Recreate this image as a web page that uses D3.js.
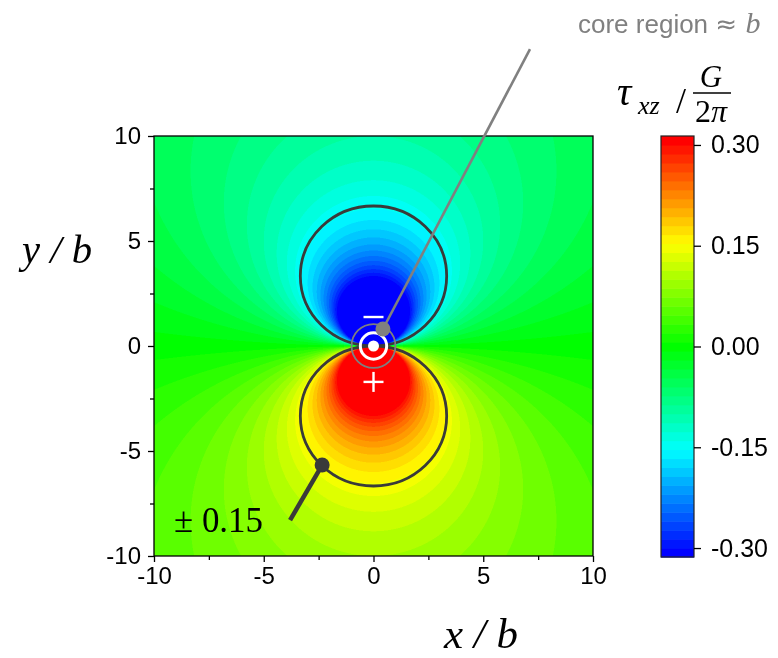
<!DOCTYPE html>
<html><head><meta charset="utf-8">
<script src="https://cdn.jsdelivr.net/npm/d3@7/dist/d3.min.js"></script>
<style>
body{margin:0;background:#fff;}
#wrap{position:relative;width:778px;height:658px;overflow:hidden;}
#wrap canvas,#wrap svg{position:absolute;left:0;top:0;}
</style></head>
<body><div id="wrap"></div>
<script>
// ---------------- data ----------------
const xDomain = [-10, 10];
const yDomain = [-10, 10];
const xTicks = [-10, -5, 0, 5, 10];
const yTicks = [-10, -5, 0, 5, 10];
const minorTicks = [-7.5, -2.5, 2.5, 7.5];
const colorTicks = [-0.30, -0.15, 0.00, 0.15, 0.30];
const colorTickLabels = ["-0.30", "-0.15", "0.00", "0.15", "0.30"];
const contourLevels = [-0.15, 0.15];           // drawn iso-lines of tau_xz
const bandStep = 1 / 75;                        // width of one colour band
const bandCount = 47;                           // bands -23 .. 23
const paletteColors = ["#0000ff", "#00ffff", "#00ff00", "#ffff00", "#ff0000"];
const coreRadii = { ring: 1.0, whiteRing: 0.6, dot: 0.25 };   // in b
// screw-dislocation shear stress field, tau_xz in units of G/(2pi), lengths in b
const burgers = 1;
function tauXZ(x, y) { const r2 = x * x + y * y; return r2 === 0 ? 0 : -burgers * y / r2; }
// annotation anchors in data units
const corePointer = { dot: [0.43, 0.81], end: [7.13, 14.14] };
const levelPointer = { dot: [-2.34, -5.67], end: [-3.80, -8.29] };
const signPos = { minus: [0, 1.38], plus: [0, -1.71] };

// ---------------- layout ----------------
const W = 778, H = 658;
const plot = { left: 154, right: 593, top: 136, bottom: 556 };
const cbar = { left: 661, right: 694, top: 136, bottom: 557 };

const xScale = d3.scaleLinear().domain(xDomain).range([plot.left, plot.right]);
const yScale = d3.scaleLinear().domain(yDomain).range([plot.bottom, plot.top]);
const half = (bandCount - 1) / 2;
const palette = d3.scaleLinear()
  .domain([-half * bandStep, -half / 2 * bandStep, 0, half / 2 * bandStep, half * bandStep])
  .range(paletteColors).interpolate(d3.interpolateRgb).clamp(true);
const bandIndex = v => Math.max(-half, Math.min(half, Math.round(v / bandStep)));
const cScale = d3.scaleLinear()
  .domain([-(half + 0.5) * bandStep, (half + 0.5) * bandStep])
  .range([cbar.bottom, cbar.top]);

const wrap = d3.select("#wrap");

// ---------------- field (canvas, 2x supersampled) ----------------
const ss = 2;
const pw = plot.right - plot.left, ph = plot.bottom - plot.top;
const canvas = wrap.append("canvas")
  .attr("width", pw * ss).attr("height", ph * ss)
  .style("left", plot.left + "px").style("top", plot.top + "px")
  .style("width", pw + "px").style("height", ph + "px");
const ctx = canvas.node().getContext("2d");
const img = ctx.createImageData(pw * ss, ph * ss);
const bandRGB = {};
d3.range(-half, half + 1).forEach(k => { const c = d3.rgb(palette(k * bandStep)); bandRGB[k] = [c.r, c.g, c.b]; });
for (let j = 0; j < ph * ss; j++) {
  const y = yScale.invert(plot.top + (j + 0.5) / ss);
  for (let i = 0; i < pw * ss; i++) {
    const x = xScale.invert(plot.left + (i + 0.5) / ss);
    const c = bandRGB[bandIndex(tauXZ(x, y))];
    const o = (j * pw * ss + i) * 4;
    img.data[o] = c[0]; img.data[o + 1] = c[1]; img.data[o + 2] = c[2]; img.data[o + 3] = 255;
  }
}
ctx.putImageData(img, 0, 0);

// ---------------- svg overlay ----------------
const svg = wrap.append("svg").attr("width", W).attr("height", H);
const sansFont = "Liberation Sans, Arial, sans-serif";
const serifFont = "Liberation Serif, 'Times New Roman', serif";

// contour lines (circles through origin)
svg.append("g").selectAll("ellipse").data(contourLevels).join("ellipse")
  .attr("cx", xScale(0))
  .attr("cy", L => yScale(-1 / (2 * L)))
  .attr("rx", L => xScale(1 / (2 * Math.abs(L))) - xScale(0))
  .attr("ry", L => yScale(0) - yScale(1 / (2 * Math.abs(L))))
  .attr("fill", "none").attr("stroke", "#3a3a3a").attr("stroke-width", 2.8);

// core markers
const cx0 = xScale(0), cy0 = yScale(0), kx = xScale(1) - xScale(0);
svg.append("circle").attr("cx", cx0).attr("cy", cy0).attr("r", coreRadii.ring * kx)
  .attr("fill", "none").attr("stroke", "#7f7f7f").attr("stroke-width", 1.8);
svg.append("circle").attr("cx", cx0).attr("cy", cy0).attr("r", coreRadii.whiteRing * kx)
  .attr("fill", "none").attr("stroke", "#fff").attr("stroke-width", 3);
svg.append("circle").attr("cx", cx0).attr("cy", cy0).attr("r", coreRadii.dot * kx).attr("fill", "#fff");

// signs
const sgn = svg.append("g").attr("stroke", "#fff").attr("stroke-width", 2.4);
sgn.append("line").attr("x1", xScale(signPos.minus[0]) - 10).attr("x2", xScale(signPos.minus[0]) + 10)
  .attr("y1", yScale(signPos.minus[1])).attr("y2", yScale(signPos.minus[1]));
sgn.append("line").attr("x1", xScale(signPos.plus[0]) - 10).attr("x2", xScale(signPos.plus[0]) + 10)
  .attr("y1", yScale(signPos.plus[1])).attr("y2", yScale(signPos.plus[1]));
sgn.append("line").attr("x1", xScale(signPos.plus[0])).attr("x2", xScale(signPos.plus[0]))
  .attr("y1", yScale(signPos.plus[1]) - 10).attr("y2", yScale(signPos.plus[1]) + 10);

// frame + axes
svg.append("rect").attr("x", plot.left).attr("y", plot.top).attr("width", pw).attr("height", ph)
  .attr("fill", "none").attr("stroke", "#000").attr("stroke-width", 1.3);
const fmt = d => String(d);
svg.append("g").attr("transform", `translate(0,${plot.bottom})`)
  .call(d3.axisBottom(xScale).tickValues(xTicks).tickSize(6).tickPadding(5).tickFormat(fmt));
svg.append("g").attr("transform", `translate(0,${plot.bottom})`)
  .call(d3.axisBottom(xScale).tickValues(minorTicks).tickSize(4).tickFormat(""));
svg.append("g").attr("transform", `translate(${plot.left},0)`)
  .call(d3.axisLeft(yScale).tickValues(yTicks).tickSize(6).tickPadding(7).tickFormat(fmt));
svg.append("g").attr("transform", `translate(${plot.left},0)`)
  .call(d3.axisLeft(yScale).tickValues(minorTicks).tickSize(4).tickFormat(""));
svg.selectAll(".domain").remove();
svg.selectAll(".tick line").attr("stroke", "#000").attr("stroke-width", 1.3);
svg.selectAll(".tick text").attr("font-family", sansFont).attr("font-size", 24).attr("fill", "#000");

// colorbar
const cb = svg.append("g");
cb.selectAll("rect.band").data(d3.range(-half, half + 1)).join("rect").attr("class", "band")
  .attr("x", cbar.left).attr("width", cbar.right - cbar.left)
  .attr("y", k => cScale((k + 0.5) * bandStep))
  .attr("height", k => cScale((k - 0.5) * bandStep) - cScale((k + 0.5) * bandStep) + 0.6)
  .attr("fill", k => palette(k * bandStep));
cb.append("rect").attr("x", cbar.left).attr("y", cbar.top).attr("width", cbar.right - cbar.left)
  .attr("height", cbar.bottom - cbar.top).attr("fill", "none").attr("stroke", "#222").attr("stroke-width", 1.2);
cb.append("g").attr("transform", `translate(${cbar.right},0)`)
  .call(d3.axisRight(cScale).tickValues(colorTicks).tickSize(7).tickPadding(10)
    .tickFormat((d, i) => colorTickLabels[i]))
  .call(g => g.select(".domain").remove())
  .call(g => g.selectAll("line").attr("stroke", "#000").attr("stroke-width", 1.3))
  .call(g => g.selectAll("text").attr("font-family", sansFont).attr("font-size", 25).attr("fill", "#000"));

// colorbar title tau_xz / (G / 2pi)
const tt = svg.append("g").attr("font-family", serifFont).attr("font-style", "italic").attr("fill", "#000");
tt.append("text").attr("x", 617).attr("y", 105).attr("font-size", 40).text("τ");
tt.append("text").attr("x", 638).attr("y", 114).attr("font-size", 26).text("xz");
tt.append("text").attr("x", 676).attr("y", 113).attr("font-size", 36).attr("font-style", "normal").text("/");
tt.append("text").attr("x", 711).attr("y", 87).attr("font-size", 31).attr("text-anchor", "middle").text("G");
tt.append("text").attr("x", 711).attr("y", 122).attr("font-size", 32).attr("text-anchor", "middle")
  .attr("font-style", "normal").text("2").append("tspan").attr("font-style", "italic").text("π");
tt.append("line").attr("x1", 693).attr("x2", 731).attr("y1", 93).attr("y2", 93)
  .attr("stroke", "#000").attr("stroke-width", 1.6);

// axis titles
function fit(sel, width) { const w = sel.node().getComputedTextLength(); const fs = +sel.attr("font-size"); sel.attr("font-size", fs * width / w); }
const yl = svg.append("text").attr("x", 22).attr("y", 263).attr("font-family", serifFont)
  .attr("font-style", "italic").attr("font-size", 50).text("y / b");
fit(yl, 70);
const xl = svg.append("text").attr("x", 444).attr("y", 648).attr("font-family", serifFont)
  .attr("font-style", "italic").attr("font-size", 50).text("x / b");
fit(xl, 74);

// level label
const lvl = svg.append("text").attr("x", 174).attr("y", 532).attr("font-family", serifFont)
  .attr("font-size", 32).attr("fill", "#000").text("± 0.15");
fit(lvl, 89);

// pointers
svg.append("line")
  .attr("x1", xScale(levelPointer.dot[0])).attr("y1", yScale(levelPointer.dot[1]))
  .attr("x2", xScale(levelPointer.end[0])).attr("y2", yScale(levelPointer.end[1]))
  .attr("stroke", "#3a3a3a").attr("stroke-width", 4.5);
svg.append("circle").attr("cx", xScale(levelPointer.dot[0])).attr("cy", yScale(levelPointer.dot[1]))
  .attr("r", 7.5).attr("fill", "#3a3a3a");
svg.append("line")
  .attr("x1", xScale(corePointer.dot[0])).attr("y1", yScale(corePointer.dot[1]))
  .attr("x2", xScale(corePointer.end[0])).attr("y2", yScale(corePointer.end[1]))
  .attr("stroke", "#808080").attr("stroke-width", 2.6);
svg.append("circle").attr("cx", xScale(corePointer.dot[0])).attr("cy", yScale(corePointer.dot[1]))
  .attr("r", 7.5).attr("fill", "#808080");

// core region label
const cr = svg.append("text").attr("x", 578).attr("y", 33).attr("fill", "#808080").attr("font-size", 26);
cr.append("tspan").attr("font-family", sansFont).text("core region ");
cr.append("tspan").attr("font-family", "DejaVu Sans, sans-serif").attr("font-size", 26).text("≈ ");
cr.append("tspan").attr("font-family", serifFont).attr("font-style", "italic").attr("font-size", 30).text("b");
const crw = cr.node().getComputedTextLength();
if (crw < 187) cr.attr("x", 578).attr("textLength", null);
</script></body></html>
